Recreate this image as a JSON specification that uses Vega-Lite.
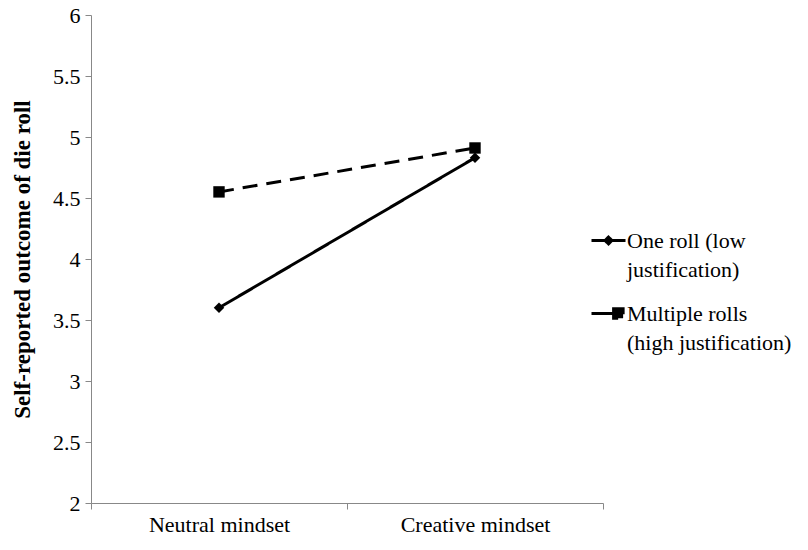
{
  "$schema": "https://vega.github.io/schema/vega-lite/v6.json",
  "width": 512,
  "height": 488,
  "autosize": {"type": "none"},
  "padding": {"left": 91, "top": 15, "right": 205, "bottom": 47},
  "background": "white",
  "config": {"font": "Liberation Serif", "view": {"stroke": null}},
  "data": {
    "values": [
      {"mindset": "Neutral mindset", "series": "One roll (low justification)", "value": 3.60},
      {"mindset": "Creative mindset", "series": "One roll (low justification)", "value": 4.83},
      {"mindset": "Neutral mindset", "series": "Multiple rolls (high justification)", "value": 4.55},
      {"mindset": "Creative mindset", "series": "Multiple rolls (high justification)", "value": 4.91}
    ]
  },
  "encoding": {
    "x": {
      "field": "mindset",
      "type": "nominal",
      "sort": ["Neutral mindset", "Creative mindset"],
      "bandPosition": 0.5,
      "scale": {"type": "band", "paddingInner": 0, "paddingOuter": 0},
      "axis": {
        "title": null,
        "labelAngle": 0,
        "tickBand": "extent",
        "grid": false,
        "domainColor": "#888888",
        "tickColor": "#888888",
        "domainWidth": 1,
        "tickSize": 6,
        "labelFontSize": 22,
        "labelColor": "black",
        "labelPadding": 5
      }
    },
    "y": {
      "field": "value",
      "type": "quantitative",
      "scale": {"domain": [2, 6], "nice": false, "zero": false},
      "axis": {
        "title": "Self-reported outcome of die roll",
        "values": [2, 2.5, 3, 3.5, 4, 4.5, 5, 5.5, 6],
        "format": "~g",
        "grid": false,
        "domainColor": "#888888",
        "tickColor": "#888888",
        "tickSize": 6,
        "labelFontSize": 22,
        "labelColor": "black",
        "labelPadding": 5,
        "titleFontSize": 23,
        "titleFontWeight": "bold",
        "titleColor": "black",
        "titlePadding": 18
      }
    }
  },
  "layer": [
    {
      "mark": {"type": "line", "color": "black", "strokeWidth": 3},
      "encoding": {
        "strokeDash": {
          "field": "series",
          "type": "nominal",
          "scale": {
            "domain": ["One roll (low justification)", "Multiple rolls (high justification)"],
            "range": [[1, 0], [15, 9]]
          },
          "legend": {
            "title": null,
            "orient": "none",
            "legendX": 499,
            "legendY": 207,
            "symbolSize": 1156,
            "symbolFillColor": "black",
            "symbolStrokeColor": "black",
            "symbolStrokeWidth": 3,
            "symbolOpacity": 1,
            "labelFontSize": 22,
            "labelColor": "black",
            "labelLimit": 0,
            "labelOffset": 0,
            "rowPadding": 14,
            "labelExpr": "datum.label == 'One roll (low justification)' ? ['One roll (low', 'justification)'] : ['Multiple rolls', '(high justification)']",
            "encode": {
              "symbols": {
                "update": {
                  "shape": {"signal": "datum.value == 'One roll (low justification)' ? 'M-1,0H1M-0.2,0L0,-0.2L0.2,0L0,0.2Z' : 'M-1,0H-0.35M-0.35,0H0.3M0.3,-0.28H0.86V0.28H0.3Z'"},
                  "fill": {"value": "black"},
                  "stroke": {"value": "black"},
                  "strokeWidth": {"value": 3}
                }
              },
              "labels": {
                "update": {"lineHeight": {"value": 29}}
              }
            }
          }
        }
      }
    },
    {
      "mark": {"type": "point", "filled": true, "color": "black", "opacity": 1},
      "encoding": {
        "shape": {
          "field": "series",
          "type": "nominal",
          "scale": {
            "domain": ["Multiple rolls (high justification)", "One roll (low justification)"],
            "range": ["square", "diamond"]
          },
          "legend": null
        },
        "size": {
          "field": "series",
          "type": "ordinal",
          "scale": {
            "domain": ["Multiple rolls (high justification)", "One roll (low justification)"],
            "range": [130, 110]
          },
          "legend": null
        }
      }
    }
  ]
}
